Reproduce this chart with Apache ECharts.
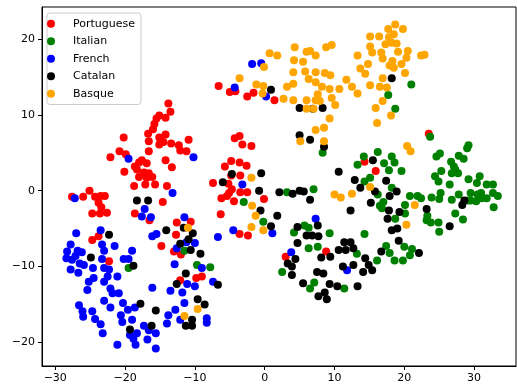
<!DOCTYPE html>
<html>
<head>
<meta charset="utf-8">
<script src="https://cdn.jsdelivr.net/npm/echarts@6/dist/echarts.min.js"></script>
<style>
  html, body { margin: 0; padding: 0; background: #fff; }
  #chart { width: 517px; height: 390px; }
</style>
</head>
<body>
<div id="chart"></div>
<script>
// t-SNE style points, one [x, y] list per language
const portuguese = [
  [-13.8, 11.5], [-13.5, 10.4], [-15.1, 9.9], [-14.2, 9.6], [-15.5, 9.5], [-15.8, 8.8], [-16.0, 8.1],
  [-16.7, 7.5], [-15.1, 7.0], [-14.2, 7.4], [-16.6, 6.5], [-15.1, 6.1], [-14.5, 6.4], [-13.4, 6.2],
  [-12.3, 6.0], [-10.9, 6.7], [-12.1, 5.3], [-11.2, 5.2], [-20.2, 7.0], [-20.8, 5.2], [-22.1, 4.4],
  [-19.9, 4.8], [-16.6, 5.2], [-17.6, 4.0], [-20.1, 2.5], [-18.6, 3.2], [-18.0, 3.7], [-16.9, 3.6],
  [-18.3, 2.8], [-17.3, 2.4], [-16.6, 2.3], [-18.0, 1.8], [-16.9, 1.7], [-16.1, 1.8], [-18.7, 0.6],
  [-17.1, 0.8], [-15.7, 0.8], [-14.2, 4.0], [-13.3, 3.1], [-14.0, 0.6], [-14.6, -1.5], [-18.6, -3.0],
  [-16.5, -3.9],
  [-27.6, -0.8], [-26.0, -0.8], [-25.1, 0.0], [-24.3, -0.8], [-23.5, -0.7], [-22.9, -0.7], [-23.8, -1.6],
  [-24.7, -3.0], [-23.6, -3.0], [-22.6, -2.9], [-23.4, -2.2],
  [-12.6, -4.2], [-10.6, -4.1], [-24.7, -6.5], [-23.8, -6.0], [-22.3, -9.3], [-14.8, -7.3], [-13.0, -8.0],
  [-12.0, -8.4], [-12.7, -5.8], [-12.1, -11.8], [-9.8, -11.5], [-9.0, -11.3],
  [-4.3, 6.9], [-3.6, 7.2], [-3.2, 6.1], [-1.9, 5.9], [-4.8, 3.9], [-5.7, 3.2], [-3.6, 3.7], [-2.6, 3.3],
  [-4.8, 2.0], [-3.5, 2.0], [-7.4, 1.0], [-5.2, 0.9], [-4.7, 0.2], [-5.1, -0.3], [-3.5, -0.2], [-2.5, -0.2],
  [-6.2, -1.0], [-5.4, -0.7], [-4.4, -1.4], [-0.1, -1.1], [-6.3, -3.1], [-3.6, -5.7], [-2.4, -5.9],
  [-6.6, 13.8], [-5.0, 13.0], [-4.2, 13.1], [-2.5, 12.4], [-1.6, 12.9], [1.4, 11.9],
  [14.3, 3.8], [15.9, 2.6], [23.5, 7.5], [8.8, -8.0], [3.0, -8.7]
]

const italian = [
  [-19.5, -10.2], [-11.5, -7.9], [-9.7, -9.8], [-7.8, -10.1],
  [-3.0, -1.5], [3.2, -0.2], [7.0, 0.2], [-0.2, -4.1], [4.2, -5.5], [5.7, -4.6], [6.3, -4.9], [9.3, -5.6],
  [8.3, 5.0], [13.3, 3.4],
  [6.3, -7.6], [7.6, -7.4], [2.5, -10.7], [7.1, -12.1], [6.5, -12.9], [11.4, -12.9], [13.2, -8.3],
  [21.0, 14.0], [17.7, 12.6], [18.7, 10.8], [23.7, 7.1],
  [29.2, 6.0], [29.0, 5.6], [14.2, 4.5], [16.2, 5.1], [17.1, 3.6], [18.2, 4.5], [18.6, 3.7], [17.8, 2.7],
  [19.6, 2.6], [14.3, 1.2], [16.2, -0.5], [17.0, -1.5], [16.8, -2.3], [18.2, 0.4], [20.8, -0.7],
  [21.9, -0.7], [22.4, -1.0], [20.1, -1.9], [20.1, -3.0], [18.7, -3.7], [23.3, -3.3], [23.2, -3.9],
  [23.8, -4.2], [24.9, -4.2], [25.0, -5.4], [23.9, -0.9], [25.0, -1.1], [24.4, 1.9], [24.9, 1.2],
  [25.3, 2.6], [24.6, 4.5], [25.1, 4.9], [26.7, 3.8], [27.1, 3.2], [27.8, 4.6], [28.5, 4.2], [27.3, 2.8],
  [27.7, 2.3], [26.8, 2.3], [26.5, 0.8], [29.2, 1.5], [30.4, 1.0], [30.8, 1.9], [31.8, 0.8], [32.7, 0.8],
  [32.7, -0.3], [33.4, -0.7], [31.8, -1.0], [31.1, -1.0], [30.3, -1.4], [29.5, -1.3], [29.1, -1.3],
  [31.0, -0.3], [30.5, -0.5], [29.5, -0.3], [27.8, -0.5], [26.8, -1.2], [25.2, -0.3], [27.3, -3.0],
  [28.4, -3.8], [32.8, -2.2], [14.3, -5.7], [15.1, 1.7], [16.5, -2.0],
  [17.4, -7.3], [17.9, -8.2], [16.1, -9.2], [18.6, -9.2], [19.8, -9.2], [20.0, -7.4], [21.1, -7.7], [20.8, -8.5]
]

const french = [
  [-19.5, 4.2], [-10.2, 4.4], [-27.2, -1.0], [-13.2, -0.3], [-17.2, -2.4], [-17.6, -3.4], [-16.3, -3.5],
  [-11.5, -3.5],
  [-23.5, -5.2], [-27.0, -5.6], [-27.8, -7.1], [-28.3, -8.0], [-26.8, -7.9], [-26.2, -8.1], [-28.4, -8.9],
  [-27.6, -9.1], [-27.1, -8.6], [-26.5, -9.6], [-27.8, -10.4], [-26.7, -10.8], [-25.9, -9.8], [-24.6, -10.2],
  [-23.3, -7.1], [-23.0, -7.9], [-23.3, -9.0], [-23.0, -10.2], [-22.3, -10.4], [-21.5, -7.3], [-20.2, -9.0],
  [-19.5, -9.0], [-19.0, -7.9], [-21.1, -11.3], [-22.5, -11.3], [-23.0, -12.0], [-24.5, -11.5], [-25.2, -12.0],
  [-25.4, -13.1], [-22.1, -12.9], [-21.8, -13.5], [-20.9, -13.5], [-23.0, -14.5], [-26.6, -15.1], [-26.1, -15.9],
  [-26.0, -16.6], [-24.7, -15.9], [-24.3, -16.9], [-23.5, -17.6], [-23.2, -18.8], [-22.1, -15.4], [-20.3, -14.8],
  [-20.6, -16.4], [-19.6, -15.7], [-20.4, -17.3], [-19.0, -17.0], [-18.6, -15.4], [-21.1, -20.3], [-18.5, -20.3],
  [-19.3, -19.0], [-18.3, -18.8], [-18.8, -19.5], [-17.3, -17.8], [-16.6, -18.4], [-15.6, -18.8], [-16.8, -19.6],
  [-15.6, -20.8], [-16.1, -12.8], [-16.1, -6.0], [-15.5, -5.7], [-12.6, -7.6], [-12.9, -9.7], [-13.5, -13.2],
  [-11.8, -13.4], [-11.5, -14.8], [-12.8, -15.7], [-14.0, -17.5], [-13.8, -16.4], [-12.1, -17.0], [-11.1, -12.3],
  [-10.0, -12.6], [-9.0, -10.2], [-8.3, -16.8], [-8.3, -17.4], [-7.4, -12.0], [-11.2, -6.8], [-10.0, -6.9],
  [-3.2, 0.8], [-4.5, -5.2], [-6.7, -6.1], [1.1, -5.6], [7.3, -3.7],
  [-1.8, 16.7], [-0.5, 16.8], [-4.3, 13.6], [0.2, 12.4],
  [3.8, -8.1], [11.8, -10.5]
]

const catalan = [
  [-18.3, -1.3], [-16.7, -1.3],
  [-22.3, -5.8], [-24.9, -8.8], [-18.8, -9.9], [-14.1, -5.2], [-11.6, -4.9], [-10.3, -5.6], [-10.9, -6.4],
  [-12.1, -7.0], [-10.6, -7.8], [-9.2, -8.3], [-11.3, -10.9], [-12.6, -12.3], [-9.6, -14.3], [-8.6, -15.0],
  [-17.8, -14.9], [-15.6, -15.8], [-19.3, -18.3], [-16.2, -17.8], [-11.3, -17.8], [-10.4, -17.8], [-10.4, -17.0],
  [-6.7, -12.4],
  [5.0, 7.3], [6.5, 6.7], [8.5, 5.8], [-4.7, 2.2], [-6.0, 1.1], [-0.5, 2.3], [-0.8, 0.0], [2.1, -0.2],
  [4.0, -0.4], [5.0, 0.0], [5.6, -0.1], [6.5, -1.2], [-0.6, -2.6], [1.8, -3.3], [0.9, -4.7], [4.7, -4.8],
  [7.6, -4.6], [6.0, -5.9], [6.8, -5.9], [7.7, -6.0], [10.6, 2.5], [12.9, 1.4], [12.3, -2.6], [4.7, -6.9],
  [11.4, -6.8], [12.3, -6.8],
  [0.9, 13.3], [5.0, 10.9], [6.9, 10.8], [8.3, 10.9], [18.2, 14.8],
  [10.6, -7.8], [11.6, -7.8], [12.7, -7.6], [4.4, -9.0], [3.3, -9.6], [3.9, -10.0], [3.9, -11.1], [5.5, -12.2],
  [7.5, -10.7], [8.4, -10.9], [8.1, -8.8], [9.4, -8.7], [9.3, -12.3], [10.4, -12.6], [8.6, -13.4], [7.7, -13.9],
  [8.9, -14.3], [11.2, -10.0], [12.7, -9.8], [13.3, -12.6],
  [15.5, 4.0], [13.7, 0.4], [15.8, -0.1], [17.4, 1.3], [17.9, -0.7], [18.9, -0.1], [15.2, -1.6], [17.8, -2.6],
  [19.3, -2.8], [17.6, -3.7], [18.2, -5.2], [19.0, -5.0], [19.2, -6.6], [23.2, -2.4], [26.5, -4.7],
  [28.3, -1.9], [28.6, -1.3],
  [16.7, -8.0], [22.1, -8.2], [14.4, -8.9], [14.9, -9.8], [15.4, -10.5], [14.1, -10.7]
]

const basque = [
  [0.7, 18.1], [1.8, 17.8], [4.3, 18.9], [6.0, 18.3], [6.5, 18.4], [7.3, 17.8], [8.8, 18.9], [9.6, 19.2],
  [4.2, 17.2], [5.5, 17.0], [-0.1, 16.3], [-3.6, 14.8], [-1.2, 14.0], [-0.2, 13.8], [-0.3, 12.8], [4.1, 15.6],
  [4.1, 14.1], [3.2, 13.7], [2.7, 12.1], [4.1, 11.9], [5.8, 15.7], [7.3, 15.6], [8.6, 15.5], [9.4, 15.2],
  [6.3, 14.7], [7.3, 14.3], [8.2, 13.7], [9.3, 13.4], [10.7, 13.4], [11.7, 14.6], [12.5, 13.7], [13.3, 12.8],
  [6.0, 11.9], [7.3, 11.9], [7.9, 11.8], [7.6, 12.7], [9.6, 12.2], [10.1, 11.3], [6.0, 10.8], [7.0, 10.8],
  [9.3, 9.5], [7.3, 8.0], [8.5, 8.3],
  [5.1, 6.5], [8.5, 6.5], [-1.9, 1.7], [-1.8, -2.0], [-1.3, -3.3], [-1.9, -4.8], [-0.2, -5.2], [10.0, -0.5],
  [10.9, -0.9], [12.5, -0.4],
  [-11.0, -4.9], [-11.5, -16.5], [-9.6, -15.6],
  [20.4, 5.9], [20.9, 5.2], [15.1, 0.5], [21.5, -1.9], [20.3, -4.5],
  [18.7, 21.9], [19.8, 21.3], [17.7, 21.3], [18.5, 20.6], [17.8, 20.2], [15.1, 20.3], [16.4, 20.3], [17.3, 19.3],
  [18.2, 19.5], [18.9, 19.4], [15.1, 19.0], [15.4, 18.2], [16.7, 18.2], [13.3, 17.8], [20.5, 18.4], [20.3, 17.5],
  [19.1, 18.3], [16.9, 17.4], [18.3, 17.1], [19.6, 16.7], [18.5, 16.2], [17.9, 16.5], [22.4, 17.8], [22.9, 17.9],
  [14.8, 16.7], [13.7, 16.1], [14.4, 15.4], [16.9, 14.8], [20.1, 15.5], [15.1, 13.9], [16.5, 13.7], [17.5, 13.6],
  [16.9, 11.8], [15.9, 10.9], [18.1, 9.9], [16.1, 8.9]
]

const languages = ['Portuguese', 'Italian', 'French', 'Catalan', 'Basque']
const points = [portuguese, italian, french, catalan, basque]
const colors = ['#ff0000', '#008000', '#0000ff', '#000000', '#ffa500']

const font = 'DejaVu Sans'

function tickLabel(v) {
  if (Math.abs(v % 10) > 1e-6) return ''
  return String(v).replace('-', '\u2212')
}

const chart = echarts.init(document.getElementById('chart'), null, { renderer: 'canvas' })

const axisCommon = {
  type: 'value',
  minInterval: 10,
  maxInterval: 10,
  splitLine: { show: false },
  axisLine: { show: true, onZero: false, lineStyle: { color: '#000', width: 1 } },
  axisTick: { show: true, inside: false, length: 4, lineStyle: { color: '#000', width: 1 } },
  axisLabel: {
    color: '#000',
    fontFamily: font,
    fontSize: 11,
    margin: 7,
    showMinLabel: false,
    showMaxLabel: false,
    formatter: tickLabel
  }
}

const option = {
  animation: false,
  backgroundColor: '#fff',
  grid: {
    left: 42,
    right: 1,
    top: 7,
    bottom: 24,
    show: true,
    borderColor: '#000',
    borderWidth: 1
  },
  xAxis: Object.assign({}, axisCommon, { min: -31.9, max: 36.0 }),
  yAxis: Object.assign({}, axisCommon, { min: -23.1, max: 24.2 }),
  legend: {
    orient: 'vertical',
    left: 47,
    top: 13,
    itemWidth: 34,
    itemHeight: 8,
    itemGap: 4,
    padding: [4, 6, 4, 0],
    backgroundColor: 'rgba(255,255,255,0.8)',
    borderColor: '#cccccc',
    borderWidth: 1,
    borderRadius: 3,
    textStyle: { fontFamily: font, fontSize: 11, lineHeight: 13.5, color: '#000' },
    data: languages.map(function (name) { return { name: name, icon: 'circle' } })
  },
  series: languages.map(function (name, i) {
    return {
      name: name,
      type: 'scatter',
      symbol: 'circle',
      symbolSize: 8,
      itemStyle: { color: colors[i], opacity: 1 },
      data: points[i]
    }
  })
}

chart.setOption(option)
</script>
</body>
</html>
